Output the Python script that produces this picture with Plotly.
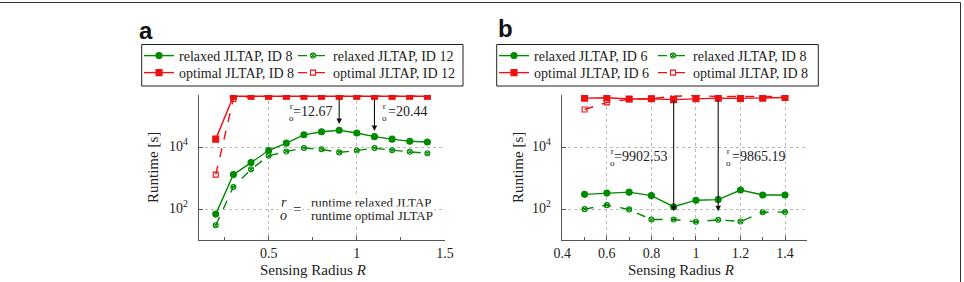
import numpy as np
import plotly.graph_objects as go

# ---------------- data ----------------
R_a = [0.2, 0.3, 0.4, 0.5, 0.6, 0.7, 0.8, 0.9, 1.0, 1.1, 1.2, 1.3, 1.4]
relaxed_id8_a = [69, 1320, 3240, 7940, 13800, 25700, 32400, 36100, 29500, 22400, 18600, 15800, 15100]
relaxed_id12_a = [30, 525, 1950, 5370, 7410, 9550, 8710, 6920, 7940, 9550, 8130, 7240, 6460]
optimal_id8_a = [18600, 457000, 457000, 457000, 457000, 457000, 457000, 457000, 457000, 457000, 457000, 457000, 457000]
optimal_id12_a = [1320, 372000, 457000, 457000, 457000, 457000, 457000, 457000, 457000, 457000, 457000, 457000, 457000]

R_b = [0.5, 0.6, 0.7, 0.8, 0.9, 1.0, 1.1, 1.2, 1.3, 1.4]
relaxed_id6_b = [302, 331, 355, 275, 120, 195, 204, 417, 288, 288]
relaxed_id8_b = [100, 135, 98, 46, 46, 39, 45, 40, 79, 81]
optimal_id6_b = [398000, 407000, 372000, 380000, 355000, 380000, 398000, 389000, 398000, 417000]
optimal_id8_b = [170000, 288000, 363000, 380000, 457000, 479000, 447000, 447000, 447000, 447000]

y_tick_vals = [100, 10000]
y_tick_text = ["10<sup>2</sup>", "10<sup>4</sup>"]

ratio_labels_a = [(0.9, "=12.67", "left"), (1.1, "=20.44", "right")]
ratio_labels_b = [(0.9, "=9902.53", "left"), (1.1, "=9865.19", "right")]

GREEN = "#008a00"
RED = "#ee1111"
TXT = "#222222"
FONT = "Liberation Serif"

W, H = 964, 282
def px_x(p): return p / W
def px_y(p): return (H - p) / H

fig = go.Figure()

def add_series(x, y, name, color, dash, symbol, size, xa, ya, legend, fill=None):
    fig.add_trace(go.Scatter(
        x=x, y=y, name=name, mode="lines+markers",
        line=dict(color=color, width=1.4, dash=dash),
        marker=dict(symbol=symbol, size=size, color=fill or color,
                    line=dict(color=color, width=1.1)),
        xaxis=xa, yaxis=ya, legend=legend))

# panel a
add_series(R_a, relaxed_id8_a, "relaxed JLTAP, ID 8", GREEN, "solid", "circle", 6, "x", "y", "legend")
add_series(R_a, relaxed_id12_a, "relaxed JLTAP, ID 12", GREEN, "dash", "circle-x-open", 5, "x", "y", "legend2")
add_series(R_a, optimal_id8_a, "optimal JLTAP, ID 8", RED, "solid", "square", 6, "x", "y", "legend3")
add_series(R_a, optimal_id12_a, "optimal JLTAP, ID 12", RED, "dash", "square-open", 5, "x", "y", "legend4")
# panel b
add_series(R_b, relaxed_id6_b, "relaxed JLTAP, ID 6", GREEN, "solid", "circle", 6, "x2", "y2", "legend5")
add_series(R_b, relaxed_id8_b, "relaxed JLTAP, ID 8", GREEN, "dash", "circle-x-open", 5, "x2", "y2", "legend6")
add_series(R_b, optimal_id6_b, "optimal JLTAP, ID 6", RED, "solid", "square", 6, "x2", "y2", "legend7")
add_series(R_b, optimal_id8_b, "optimal JLTAP, ID 8", RED, "dash", "square-open", 5, "x2", "y2", "legend8")

axis_common = dict(
    showline=True, linecolor="#555555", linewidth=1.3, mirror=False,
    ticks="inside", ticklen=4, tickcolor="#555555",
    showgrid=True, gridcolor="#b8b8b8", griddash="dot", gridwidth=1,
    zeroline=False, tickfont=dict(family=FONT, size=14, color=TXT), automargin=False,
)

def legend_item(xpx, ypx):
    return dict(xanchor="left", yanchor="middle", xref="container", yref="container",
                x=px_x(xpx), y=px_y(ypx),
                orientation="h", borderwidth=0,
                bgcolor="rgba(0,0,0,0)", font=dict(family=FONT, size=14, color=TXT),
                itemwidth=30, tracegroupgap=0)

ROW1, ROW2 = 56, 73
fig.update_layout(
    width=W, height=H, margin=dict(l=0, r=0, t=0, b=0, autoexpand=False),
    paper_bgcolor="white", plot_bgcolor="white",
    font=dict(family=FONT, color=TXT),
    xaxis=dict(**axis_common, domain=[px_x(199), px_x(445)], range=[0.105, 1.5],
               tickvals=[0.5, 1, 1.5], ticktext=["0.5", "1", "1.5"],
               minor=dict(tickvals=[0.25, 0.75, 1.25], ticks="inside", ticklen=3, tickcolor="#555555", showgrid=False),
               anchor="y"),
    yaxis=dict(**axis_common, domain=[px_y(240), px_y(95)], type="log", range=[1.0, 5.7],
               tickvals=y_tick_vals, showticklabels=False, anchor="x"),
    xaxis2=dict(**axis_common, domain=[px_x(562.3), px_x(807.3)], range=[0.4, 1.5],
                tickvals=[0.4, 0.6, 0.8, 1, 1.2, 1.4], ticktext=["0.4", "0.6", "0.8", "1", "1.2", "1.4"],
                minor=dict(tickvals=[0.5, 0.7, 0.9, 1.1, 1.3, 1.5], ticks="inside", ticklen=3, tickcolor="#555555", showgrid=False),
                anchor="y2"),
    yaxis2=dict(**axis_common, domain=[px_y(240), px_y(95)], type="log", range=[1.0, 5.7],
                tickvals=y_tick_vals, showticklabels=False, anchor="x2"),
    legend=legend_item(139, ROW1),
    legend2=legend_item(293, ROW1),
    legend3=legend_item(139, ROW2),
    legend4=legend_item(293, ROW2),
    legend5=legend_item(494, ROW1),
    legend6=legend_item(653, ROW1),
    legend7=legend_item(494, ROW2),
    legend8=legend_item(653, ROW2),
    showlegend=True,
)

annotations = []
shapes = []

# y tick labels placed just left of each axis line, at the axis' own log positions
for yref, xpx in (("y", 190), ("y2", 553)):
    for v, t in zip(y_tick_vals, y_tick_text):
        annotations.append(dict(text=t, x=px_x(xpx), y=np.log10(v), xref="paper", yref=yref,
                                xanchor="right", yanchor="middle", yshift=2, showarrow=False,
                                font=dict(family=FONT, size=14, color=TXT)))

# legend frames
for x0, x1 in ((141.7, 463), (496.7, 818.3)):
    shapes.append(dict(type="rect", xref="paper", yref="paper", x0=px_x(x0), x1=px_x(x1),
                       y0=px_y(86), y1=px_y(44.5), fillcolor="white",
                       line=dict(color="#222", width=1), layer="above"))

# panel labels
annotations.append(dict(text="<b>a</b>", x=px_x(137), y=px_y(30), xref="paper", yref="paper",
                        xanchor="left", yanchor="middle", showarrow=False,
                        font=dict(family="Liberation Sans", size=24, color="#111")))
annotations.append(dict(text="<b>b</b>", x=px_x(496), y=px_y(28), xref="paper", yref="paper",
                        xanchor="left", yanchor="middle", showarrow=False,
                        font=dict(family="Liberation Sans", size=24, color="#111")))

# axis titles
title_font = dict(family=FONT, size=15, color=TXT)
for xc in (313, 681):
    annotations.append(dict(text="Sensing Radius <i>R</i>", x=px_x(xc), y=px_y(270), xref="paper", yref="paper",
                            xanchor="center", yanchor="middle", showarrow=False, font=title_font))
for xc in (153, 518):
    annotations.append(dict(text="Runtime [s]", x=px_x(xc), y=px_y(168), xref="paper", yref="paper",
                            xanchor="center", yanchor="middle", showarrow=False, textangle=-90, font=title_font))

def small_frac(xref, yref, x, y, xshift):
    annotations.append(dict(text="r<br>o", x=x, y=y, xref=xref, yref=yref, xshift=xshift,
                            showarrow=False, xanchor="center", yanchor="middle",
                            font=dict(family=FONT, size=9, color=TXT)))
    shapes.append(dict(type="line", xref=xref, yref=yref, xsizemode="pixel", ysizemode="pixel",
                       xanchor=x, yanchor=y, x0=xshift - 3, x1=xshift + 3, y0=0.5, y1=0.5,
                       line=dict(color=TXT, width=0.6)))

def ratio_labels(labels, xref, yref, y_log, tips, start_log, frac_off_left):
    for (xv, txt, side), tip in zip(labels, tips):
        annotations.append(dict(text="", x=xv, y=tip, ax=xv, ay=start_log, xref=xref, yref=yref,
                                axref=xref, ayref=yref, showarrow=True, arrowhead=2, arrowsize=1,
                                arrowwidth=1.1, arrowcolor="#111", standoff=0, startstandoff=0))
        if side == "left":
            small_frac(xref, yref, xv, y_log, frac_off_left)
            annotations.append(dict(text=txt, x=xv, y=y_log, xref=xref, yref=yref, xshift=-5,
                                    xanchor="right", yanchor="middle", showarrow=False,
                                    font=dict(family=FONT, size=14, color=TXT)))
        else:
            small_frac(xref, yref, xv, y_log, 10)
            annotations.append(dict(text=txt, x=xv, y=y_log, xref=xref, yref=yref, xshift=12,
                                    xanchor="left", yanchor="middle", showarrow=False,
                                    font=dict(family=FONT, size=14, color=TXT)))

ratio_labels(ratio_labels_a, "x", "y", 5.154, [4.76, 4.53], 5.60, -48)
ratio_labels(ratio_labels_b, "x2", "y2", 3.70, [1.93, 1.93], 5.58, -61)

# big ratio definition in panel a
annotations.append(dict(text="<i>r</i>", x=1.084, y=2.0, xref="x", yref="y", xshift=-88, yshift=7,
                        showarrow=False, xanchor="center", yanchor="middle",
                        font=dict(family=FONT, size=14, color=TXT), bgcolor="white"))
annotations.append(dict(text="<i>o</i>", x=1.084, y=2.0, xref="x", yref="y", xshift=-88, yshift=-6,
                        showarrow=False, xanchor="center", yanchor="middle",
                        font=dict(family=FONT, size=14, color=TXT), bgcolor="white"))
annotations.append(dict(text="=", x=1.084, y=2.0, xref="x", yref="y", xshift=-75,
                        showarrow=False, xanchor="center", yanchor="middle",
                        font=dict(family=FONT, size=15, color=TXT), bgcolor="white"))
annotations.append(dict(text="runtime relaxed JLTAP", x=1.084, y=2.0, xref="x", yref="y", yshift=7,
                        showarrow=False, xanchor="center", yanchor="middle",
                        font=dict(family=FONT, size=13, color=TXT), bgcolor="white"))
annotations.append(dict(text="runtime optimal JLTAP", x=1.084, y=2.0, xref="x", yref="y", yshift=-6,
                        showarrow=False, xanchor="center", yanchor="middle",
                        font=dict(family=FONT, size=13, color=TXT), bgcolor="white"))
shapes.append(dict(type="line", xref="x", yref="y", xsizemode="pixel", ysizemode="pixel",
                   xanchor=1.084, yanchor=2.0, x0=-64, x1=64, y0=0, y1=0,
                   line=dict(color=TXT, width=0.8)))
shapes.append(dict(type="line", xref="x", yref="y", xsizemode="pixel", ysizemode="pixel",
                   xanchor=1.084, yanchor=2.0, x0=-92, x1=-84, y0=0, y1=0,
                   line=dict(color=TXT, width=0.8)))

# outer frame (top and right)
shapes.append(dict(type="line", xref="paper", yref="paper", x0=0, x1=px_x(960.5), y0=px_y(2.5), y1=px_y(2.5),
                   line=dict(color="#333", width=1)))
shapes.append(dict(type="line", xref="paper", yref="paper", x0=px_x(960.5), x1=px_x(960.5), y0=0, y1=px_y(2.5),
                   line=dict(color="#333", width=1)))

fig.update_layout(annotations=annotations, shapes=shapes)
fig.write_html("out.html")
